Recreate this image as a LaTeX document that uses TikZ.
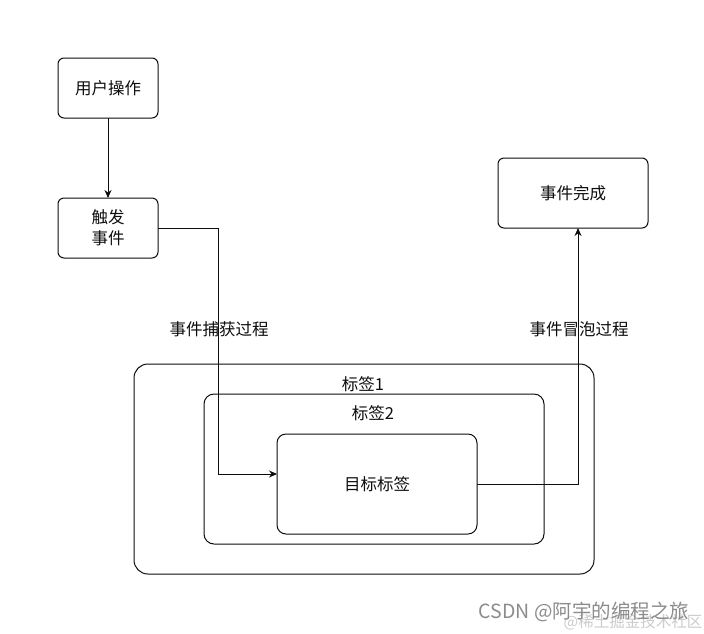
\documentclass[tikz,border=0pt]{standalone}
\usepackage{fontspec}
\newfontfamily\cjk{Noto Sans CJK SC}
\usetikzlibrary{arrows.meta}
\definecolor{ink}{gray}{0.05}
\definecolor{mark}{gray}{0.55}
\definecolor{markfaint}{gray}{0.80}

\begin{document}
\begin{tikzpicture}[x=1pt,y=-1pt,
  every node/.style={inner sep=0pt,outer sep=0pt,text=ink,font=\cjk\fontsize{16.5}{21}\selectfont},
  box/.style={draw=ink,line width=1pt,rounded corners=6pt,align=center,
              minimum width=100pt,minimum height=60pt},
  frame/.style={draw=ink,line width=1pt},
  lbl/.style={anchor=center},
  wm/.style={font=\cjk\fontsize{19.5}{23}\selectfont,text=mark},
  flow/.style={draw=ink,line width=1pt,-{Stealth[length=8pt,width=7pt]}}]
\useasboundingbox[fill=white] (0,0) rectangle (704,633);

% ---- nested tags ---------------------------------------------------------
\node[frame,rounded corners=14pt,minimum width=460pt,minimum height=210pt] (tagone) at (364,469) {};
\node[lbl] (tagonetxt) at (363,384) {标签1};
\node[frame,rounded corners=10pt,minimum width=340pt,minimum height=150pt] (tagtwo) at (374,469) {};
\node[lbl] (tagtwotxt) at (373,413) {标签2};
\node[frame,rounded corners=9pt,minimum width=200pt,minimum height=100pt] (target) at (377,484) {目标标签};

% ---- start and end -------------------------------------------------------
\node[box] (user) at (108,88) {用户操作};
\node[box] (trig) at (108,228) {触发\\事件};
\node[box,minimum width=150pt,minimum height=70pt] (done) at (573,193) {事件完成};

% ---- flow ----------------------------------------------------------------
\coordinate (capt) at (218,474);
\draw[flow] (user) -- (trig);
\draw[flow] (trig.east) -| (capt) -- (capt -| target.west);
\draw[flow] (target.east) -| ([xshift=5pt]done.south);

\node[lbl] (captxt) at (219,329) {事件捕获过程};
\node[lbl] (bubtxt) at (579,329) {事件冒泡过程};

% ---- watermark -----------------------------------------------------------
\node[wm,font=\cjk\fontsize{15.5}{18}\selectfont,text=markfaint] (markb) at (633,622) {@稀土掘金技术社区};
\node[wm] (marka) at (584,612) {CSDN @阿宇的编程之旅};
\end{tikzpicture}
\end{document}
